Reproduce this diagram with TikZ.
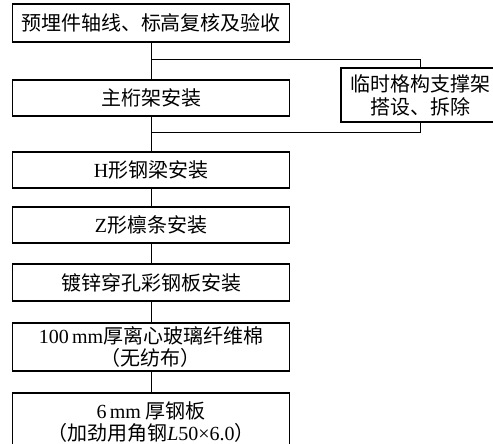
\documentclass[tikz,border=0pt]{standalone}
\usepackage{fontspec}
\setmainfont{Liberation Serif}
\newfontfamily\cjk{Noto Sans CJK SC}
\tikzset{
  stepbox/.style={draw, line width=1.8pt, minimum width=277pt, inner sep=0pt, align=center,
    font=\cjk\fontsize{20}{22}\selectfont},
  sidebox/.style={draw, line width=1.8pt, minimum width=158pt, minimum height=54pt, inner sep=0pt, align=center,
    font=\cjk\fontsize{20}{23}\selectfont},
  conn/.style={line width=0.9pt}
}
\begin{document}
\begin{tikzpicture}[x=1pt,y=-1pt]
\useasboundingbox (0,0) rectangle (493,444);
\clip (0,0) rectangle (493,444);
\node[stepbox, minimum height=38pt] (b1) at (151,23) {预埋件轴线、标高复核及验收};
\node[stepbox, minimum height=36pt] (b2) at (151,98) {主桁架安装};
\node[stepbox, minimum height=36pt] (b3) at (151,170) {{\rmfamily H}形钢梁安装};
\node[stepbox, minimum height=36pt] (b4) at (151,225) {{\rmfamily Z}形檩条安装};
\node[stepbox, minimum height=37pt] (b5) at (151,282.5) {镀锌穿孔彩钢板安装};
\node[stepbox, minimum height=48pt] (b6) at (151,347) {{\rmfamily 100\,mm}厚离心玻璃纤维棉\\（无纺布）};
\node[stepbox, minimum height=58pt] (b7) at (151,422) {{\rmfamily 6\,mm} 厚钢板\\（加劲用角钢{\rmfamily\itshape L}{\rmfamily 50×6.0}）};
\node[sidebox] (side) at (420,95) {临时格构支撑架\\搭设、拆除};
\coordinate (j1) at (151,59);
\coordinate (j2) at (151,132);
\draw[conn] (b1) -- (b2);
\draw[conn] (b2) -- (b3);
\draw[conn] (b3) -- (b4);
\draw[conn] (b4) -- (b5);
\draw[conn] (b5) -- (b6);
\draw[conn] (b6) -- (b7);
\draw[conn] (j1) -| (side.north);
\draw[conn] (side.south) |- (j2);
\end{tikzpicture}
\end{document}
